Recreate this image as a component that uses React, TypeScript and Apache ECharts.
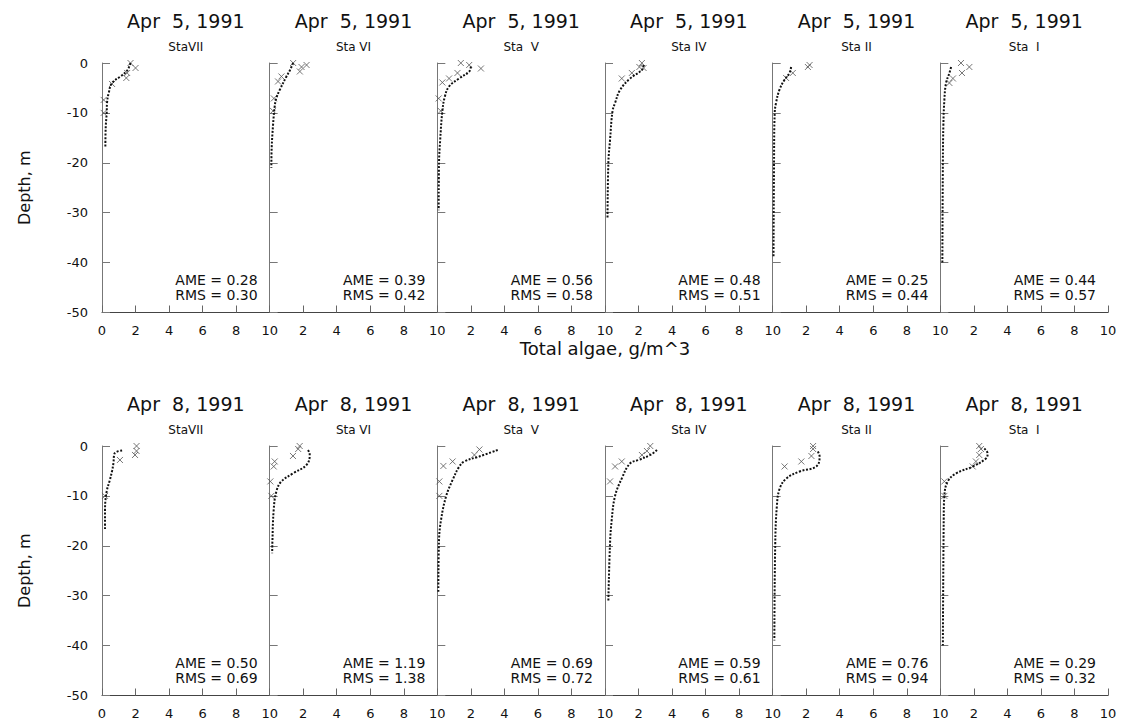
import React, { useEffect, useRef } from "react";
import * as echarts from "echarts";

// Station labels and dates of the two survey days
const stations = ["StaVII", "Sta VI", "Sta\u00a0\u00a0V", "Sta IV", "Sta II", "Sta\u00a0\u00a0I"];
const dates = ["Apr\u00a0\u00a05, 1991", "Apr\u00a0\u00a08, 1991"];

// Error statistics per station
const ameApr5 = ["0.28", "0.39", "0.56", "0.48", "0.25", "0.44"];
const rmsApr5 = ["0.30", "0.42", "0.58", "0.51", "0.44", "0.57"];
const ameApr8 = ["0.50", "1.19", "0.69", "0.59", "0.76", "0.29"];
const rmsApr8 = ["0.69", "1.38", "0.72", "0.61", "0.94", "0.32"];

// Axis ticks
const algaeTicks = [0, 2, 4, 6, 8, 10];
const depthTicks = [0, -10, -20, -30, -40, -50];

// Modelled profiles [algae g/m^3, depth m] — Apr 5
const model5VII = [[1.7, 0], [1.5, -1.5], [1.1, -2.7], [0.6, -4], [0.4, -6], [0.3, -8], [0.28, -10], [0.22, -13], [0.2, -17]];
const model5VI = [[1.4, 0], [1.2, -1.5], [1.0, -2.7], [0.6, -5.4], [0.4, -7], [0.3, -8.7], [0.2, -12.5], [0.12, -17], [0.1, -21]];
const model5V = [[2.0, -0.7], [1.9, -1.7], [1.3, -3.1], [0.7, -4.7], [0.45, -6.7], [0.3, -9.6], [0.17, -15.4], [0.1, -20], [0.08, -29.5]];
const model5IV = [[2.3, -0.4], [2.2, -1.4], [1.5, -3.1], [0.9, -5.4], [0.6, -8], [0.45, -9.6], [0.3, -15.4], [0.2, -20], [0.15, -31]];
const model5II = [[1.1, -0.8], [1.0, -2], [0.7, -3.4], [0.4, -5.4], [0.2, -8], [0.12, -10], [0.08, -20], [0.05, -39]];
const model5I = [[0.64, -0.8], [0.54, -2], [0.34, -4], [0.24, -7.4], [0.18, -12.5], [0.15, -20], [0.12, -40]];

// Observed samples — Apr 5
const obs5VII = [[1.7, 0], [2.0, -1], [1.5, -2], [1.45, -3], [0.6, -4.2], [0.1, -7.4], [0.1, -10]];
const obs5VI = [[1.4, 0], [1.9, -0.8], [2.2, -0.4], [1.8, -1.7], [0.7, -2.7], [0.5, -3.7], [0.25, -7.1], [0.2, -9.6]];
const obs5V = [[1.4, 0], [1.9, -0.4], [2.6, -1.1], [1.2, -2], [0.7, -3.1], [0.3, -3.9], [0.08, -7.1], [0.2, -9.6]];
const obs5IV = [[2.2, 0], [2.05, -0.8], [2.3, -1], [1.6, -2], [1.0, -3.1]];
const obs5II = [[2.2, -0.4], [2.1, -0.8], [1.2, -2], [0.8, -3]];
const obs5I = [[1.23, 0], [1.73, -0.8], [1.29, -2], [0.75, -3.1], [0.54, -4]];

// Modelled profiles — Apr 8
const model8VII = [[1.2, -0.9], [0.75, -1.5], [0.68, -3.5], [0.6, -5], [0.47, -6.8], [0.28, -9.1], [0.18, -12.8], [0.18, -16.8]];
const model8VI = [[2.29, -0.8], [2.39, -1.8], [2.19, -3.8], [1.39, -5.5], [0.7, -7.1], [0.4, -9.1], [0.24, -12.8], [0.16, -19.5], [0.15, -21.5]];
const model8V = [[3.6, -0.8], [2.5, -2.1], [1.6, -3.1], [1.31, -4.1], [0.91, -6.8], [0.52, -10.1], [0.22, -14.8], [0.1, -18.9], [0.06, -29.5]];
const model8IV = [[3.1, -0.8], [2.7, -1.8], [2.0, -2.8], [1.49, -3.5], [1.0, -6.5], [0.6, -10], [0.4, -14.8], [0.3, -19.5], [0.2, -31]];
const model8II = [[2.69, -1.1], [2.8, -2.1], [2.6, -4.1], [1.61, -5.1], [0.82, -6.5], [0.42, -8.5], [0.25, -12], [0.15, -20], [0.1, -39]];
const model8I = [[2.62, -0.5], [2.82, -1.5], [2.72, -2.5], [1.93, -4.1], [0.94, -5.5], [0.44, -7.1], [0.24, -10], [0.2, -14.8], [0.15, -40]];

// Observed samples — Apr 8
const obs8VII = [[2.06, 0], [2.06, -1], [1.97, -1.8], [1.07, -2.8], [0.18, -10]];
const obs8VI = [[1.79, 0], [1.7, -0.6], [1.39, -2], [0.3, -3.1], [0.24, -4.1], [0.04, -7.1], [0.1, -10]];
const obs8V = [[2.51, -0.7], [2.21, -1.8], [0.91, -3.1], [0.36, -4], [0.12, -7.1], [0.12, -10]];
const obs8IV = [[2.7, 0], [2.5, -1], [2.2, -1.8], [1.0, -3.1], [0.6, -4.1], [0.3, -7.1]];
const obs8II = [[2.41, 0], [2.41, -0.6], [2.31, -2], [1.71, -3.1], [0.71, -4.1]];
const obs8I = [[2.32, 0], [2.42, -0.6], [2.32, -1.8], [2.12, -3.1], [1.93, -4.1], [0.24, -7.1], [0.24, -10]];

const models = [
  [model5VII, model5VI, model5V, model5IV, model5II, model5I],
  [model8VII, model8VI, model8V, model8IV, model8II, model8I],
];
const observations = [
  [obs5VII, obs5VI, obs5V, obs5IV, obs5II, obs5I],
  [obs8VII, obs8VI, obs8V, obs8IV, obs8II, obs8I],
];
const ames = [ameApr5, ameApr8];
const rmss = [rmsApr5, rmsApr8];

const FONT = "'DejaVu Sans', 'Liberation Sans', sans-serif";
const LEFT = 102;
const PANEL_W = 167.67;
const PANEL_H = 249.5;
const ROW_TOPS = [63, 446];

const CROSS = "path://M0,0L10,10M10,0L0,10";

function buildOption() {
  const grid: any[] = [];
  const xAxis: any[] = [];
  const yAxis: any[] = [];
  const series: any[] = [];
  const graphic: any[] = [];

  for (let r = 0; r < 2; r++) {
    for (let c = 0; c < 6; c++) {
      const idx = r * 6 + c;
      const left = LEFT + c * PANEL_W;
      const top = ROW_TOPS[r];
      grid.push({ left, top, width: PANEL_W, height: PANEL_H });
      xAxis.push({
        type: "value",
        gridIndex: idx,
        min: algaeTicks[0],
        max: algaeTicks[algaeTicks.length - 1],
        interval: algaeTicks[1] - algaeTicks[0],
        axisLine: { show: true, onZero: false, lineStyle: { color: "#444", width: 1 } },
        axisTick: { show: true, inside: true, length: 7, lineStyle: { color: "#666" } },
        axisLabel: {
          color: "#111",
          fontSize: 13,
          fontFamily: FONT,
          margin: 11,
          showMinLabel: c === 0,
        },
        splitLine: { show: false },
      });
      yAxis.push({
        type: "value",
        gridIndex: idx,
        min: depthTicks[depthTicks.length - 1],
        max: depthTicks[0],
        interval: depthTicks[0] - depthTicks[1],
        axisLine: { show: true, onZero: false, lineStyle: { color: "#777", width: 1 } },
        axisTick: { show: true, inside: true, length: 8, lineStyle: { color: "#777" } },
        axisLabel: {
          show: c === 0,
          color: "#111",
          fontSize: 13,
          fontFamily: FONT,
          margin: 14,
        },
        splitLine: { show: false },
      });
      series.push({
        type: "line",
        xAxisIndex: idx,
        yAxisIndex: idx,
        data: models[r][c],
        smooth: 0.4,
        symbol: "none",
        lineStyle: { color: "#111", width: 2, type: [2, 1.6], cap: "butt" },
        z: 3,
      });
      series.push({
        type: "scatter",
        xAxisIndex: idx,
        yAxisIndex: idx,
        data: observations[r][c],
        symbol: CROSS,
        symbolSize: 6,
        itemStyle: { color: "rgba(0,0,0,0)", borderColor: "#555", borderWidth: 1 },
        z: 2,
      });

      const cx = left + PANEL_W / 2;
      graphic.push({
        type: "text",
        x: cx,
        y: top - 42,
        style: {
          text: dates[r],
          fontSize: 19,
          fontFamily: FONT,
          fill: "#111",
          textAlign: "center",
          textVerticalAlign: "middle",
        },
      });
      graphic.push({
        type: "text",
        x: cx,
        y: top - 16,
        style: {
          text: stations[c],
          fontSize: 12,
          fontFamily: FONT,
          fill: "#111",
          textAlign: "center",
          textVerticalAlign: "middle",
        },
      });
      const rx = left + PANEL_W - 12;
      graphic.push({
        type: "text",
        x: rx,
        y: top + PANEL_H - 33,
        style: {
          text: "AME = " + ames[r][c],
          fontSize: 14,
          fontFamily: FONT,
          fill: "#111",
          textAlign: "right",
          textVerticalAlign: "middle",
        },
      });
      graphic.push({
        type: "text",
        x: rx,
        y: top + PANEL_H - 18,
        style: {
          text: "RMS = " + rmss[r][c],
          fontSize: 14,
          fontFamily: FONT,
          fill: "#111",
          textAlign: "right",
          textVerticalAlign: "middle",
        },
      });
    }
    graphic.push({
      type: "text",
      x: 24,
      y: ROW_TOPS[r] + PANEL_H / 2,
      rotation: Math.PI / 2,
      style: {
        text: "Depth, m",
        fontSize: 16,
        fontFamily: FONT,
        fill: "#111",
        textAlign: "center",
        textVerticalAlign: "middle",
      },
    });
  }

  graphic.push({
    type: "text",
    x: LEFT + 3 * PANEL_W,
    y: 348,
    style: {
      text: "Total algae, g/m^3",
      fontSize: 18,
      fontFamily: FONT,
      fill: "#111",
      textAlign: "center",
      textVerticalAlign: "middle",
    },
  });

  return {
    animation: false,
    backgroundColor: "#fff",
    grid,
    xAxis,
    yAxis,
    series,
    graphic,
  };
}

export default function App() {
  const ref = useRef<HTMLDivElement>(null);
  useEffect(() => {
    if (!ref.current) return;
    const chart = echarts.init(ref.current, undefined, { renderer: "svg" });
    chart.setOption(buildOption());
    return () => chart.dispose();
  }, []);
  return (
    <div
      ref={ref}
      style={{ position: "fixed", left: 0, top: 0, width: 1121, height: 726, background: "#fff" }}
    />
  );
}
